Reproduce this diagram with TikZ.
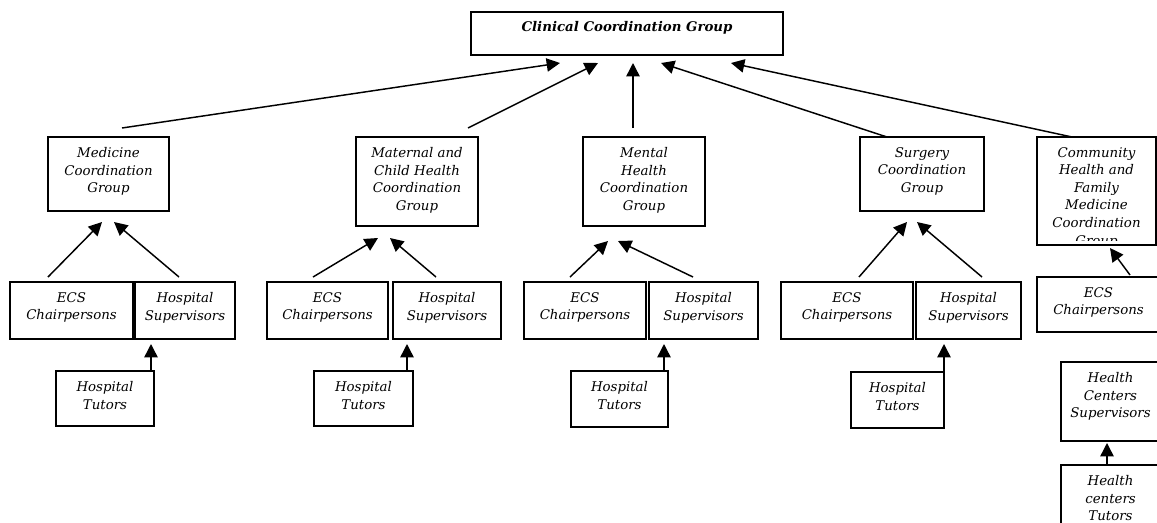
\documentclass[tikz,border=0pt]{standalone}
\usepackage{fontspec}
\setmainfont{DejaVu Serif}
\usetikzlibrary{arrows.meta,calc}
\tikzset{
  boxst/.style={draw, line width=1.3pt, rectangle, inner sep=0pt, outer sep=0pt},
  txt/.style={align=center, inner sep=0pt, font=\itshape\fontsize{10pt}{13.2pt}\selectfont},
  ttl/.style={align=center, inner sep=0pt, font=\bfseries\itshape\fontsize{10pt}{13pt}\selectfont},
  arr/.style={line width=1.1pt, -{Triangle[length=10pt,width=10pt]}},
}
\newcommand\obox[6]{%
  \node[boxst, anchor=north west, minimum width={(#4-#2)*0.75pt}, minimum height={(#5-#3)*0.75pt}] (#1) at (#2,#3) {};%
  \node[txt, anchor=north] (#1-t) at ([yshift=-7.5pt]#1.north) {#6};%
}
\begin{document}
\begin{tikzpicture}[x=0.75pt, y=-0.75pt]
\useasboundingbox (0,0) rectangle (1157,522);
\clip (0,0) rectangle (1157,522);

% top
\node[boxst, anchor=north west, minimum width={(783-471)*0.75pt}, minimum height={(55-12)*0.75pt}] (top) at (471,12) {};
\node[ttl, anchor=north] (top-t) at ([yshift=-7pt]top.north) {Clinical Coordination Group};

% level 2
\obox{med}{48}{137}{169}{211}{Medicine\\Coordination\\Group}
\obox{mat}{356}{137}{478}{226}{Maternal and\\Child Health\\Coordination\\Group}
\obox{men}{583}{137}{705}{226}{Mental\\Health\\Coordination\\Group}
\obox{sur}{860}{137}{984}{211}{Surgery\\Coordination\\Group}
\begin{scope}
\clip (1037,137) rectangle (1156,240);
\node[txt, anchor=north] (com-t) at ([yshift=-7.5pt]1096.5,137) {Community\\Health and\\Family\\Medicine\\Coordination\\Group};
\end{scope}
\node[boxst, anchor=north west, minimum width={(1156-1037)*0.75pt}, minimum height={(245-137)*0.75pt}] (com) at (1037,137) {};

% level 3
\obox{m1e}{10}{282}{133}{339}{ECS\\Chairpersons}
\obox{m1h}{135}{282}{235}{339}{Hospital\\Supervisors}
\obox{m1t}{56}{371}{154}{426}{Hospital\\Tutors}

\obox{m2e}{267}{282}{388}{339}{ECS\\Chairpersons}
\obox{m2h}{393}{282}{501}{339}{Hospital\\Supervisors}
\obox{m2t}{314}{371}{413}{426}{Hospital\\Tutors}

\obox{m3e}{524}{282}{646}{339}{ECS\\Chairpersons}
\obox{m3h}{649}{282}{758}{339}{Hospital\\Supervisors}
\obox{m3t}{571}{371}{668}{427}{Hospital\\Tutors}

\obox{m4e}{781}{282}{913}{339}{ECS\\Chairpersons}
\obox{m4h}{916}{282}{1021}{339}{Hospital\\Supervisors}
\obox{m4t}{851}{372}{944}{428}{Hospital\\Tutors}

\obox{m5e}{1037}{277}{1160}{332}{ECS\\Chairpersons}
\obox{m5s}{1061}{362}{1160}{441}{Health\\Centers\\Supervisors}
\obox{m5t}{1061}{465}{1160}{545}{Health\\centers\\Tutors}

% arrows to top
\draw[arr] ([shift={(74,-9)}]med.north west) -- ([shift={(89,8)}]top.south west);
\draw[arr] ([shift={(112,-9)}]mat.north west) -- ([shift={(127,8)}]top.south west);
\draw[arr] ([shift={(50,-9)}]men.north west) -- ([shift={(162,8)}]top.south west);
\draw[arr] ([shift={(27,0)}]sur.north west) -- ([shift={(190,8)}]top.south west);
\draw[arr] ([shift={(35,0)}]com.north west) -- ([shift={(260,8)}]top.south west);

% medicine
\draw[arr] ([shift={(38,-5)}]m1e.north west) -- ([shift={(54,11)}]med.south west);
\draw[arr] ([shift={(44,-5)}]m1h.north west) -- ([shift={(66,11)}]med.south west);
\draw[arr] ([shift={(95,0)}]m1t.north west) -- ([shift={(16,5)}]m1h.south west);
% maternal
\draw[arr] ([shift={(46,-5)}]m2e.north west) -- ([shift={(22,12)}]mat.south west);
\draw[arr] ([shift={(43,-5)}]m2h.north west) -- ([shift={(34,12)}]mat.south west);
\draw[arr] ([shift={(93,0)}]m2t.north west) -- ([shift={(14,5)}]m2h.south west);
% mental
\draw[arr] ([shift={(46,-5)}]m3e.north west) -- ([shift={(25,15)}]men.south west);
\draw[arr] ([shift={(44,-5)}]m3h.north west) -- ([shift={(35,15)}]men.south west);
\draw[arr] ([shift={(93,0)}]m3t.north west) -- ([shift={(15,5)}]m3h.south west);
% surgery
\draw[arr] ([shift={(78,-5)}]m4e.north west) -- ([shift={(47,11)}]sur.south west);
\draw[arr] ([shift={(66,-5)}]m4h.north west) -- ([shift={(57,11)}]sur.south west);
\draw[arr] ([shift={(93,0)}]m4t.north west) -- ([shift={(28,5)}]m4h.south west);
% community
\draw[arr] ([shift={(93,-2)}]m5e.north west) -- ([shift={(73,3)}]com.south west);
\draw[arr] ([shift={(46,0)}]m5t.north west) -- ([shift={(46,2)}]m5s.south west);
\end{tikzpicture}
\end{document}
